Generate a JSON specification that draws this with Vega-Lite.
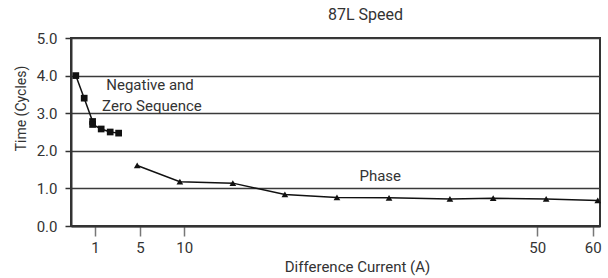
{
  "$schema": "https://vega.github.io/schema/vega-lite/v6.json",
  "width": 529,
  "height": 188,
  "autosize": {"type": "none"},
  "padding": {"left": 71, "top": 38, "right": 8, "bottom": 52},
  "background": "white",
  "title": {"text": "87L Speed", "anchor": "middle", "frame": "group", "dx": 30, "offset": 8, "fontSize": 16, "font": "Roboto", "fontWeight": "normal", "color": "#333"},
  "config": {"view": {"stroke": "#333", "strokeWidth": 2}, "font": "Roboto"},
  "datasets": {
    "points": [
      {"series": "Negative and Zero Sequence", "current": 0.2, "time": 4.0},
      {"series": "Negative and Zero Sequence", "current": 0.55, "time": 3.4},
      {"series": "Negative and Zero Sequence", "current": 0.9, "time": 2.78},
      {"series": "Negative and Zero Sequence", "current": 0.9, "time": 2.7},
      {"series": "Negative and Zero Sequence", "current": 1.55, "time": 2.58},
      {"series": "Negative and Zero Sequence", "current": 2.35, "time": 2.5},
      {"series": "Negative and Zero Sequence", "current": 3.1, "time": 2.47},
      {"series": "Phase", "current": 4.75, "time": 1.61},
      {"series": "Phase", "current": 9.5, "time": 1.18},
      {"series": "Phase", "current": 15.5, "time": 1.14},
      {"series": "Phase", "current": 21.4, "time": 0.84},
      {"series": "Phase", "current": 27.3, "time": 0.76},
      {"series": "Phase", "current": 33.2, "time": 0.75},
      {"series": "Phase", "current": 40.1, "time": 0.72},
      {"series": "Phase", "current": 45.0, "time": 0.74},
      {"series": "Phase", "current": 51.6, "time": 0.72},
      {"series": "Phase", "current": 60.9, "time": 0.68}
    ],
    "labels": [
      {"label": "Negative and", "current": 6.13, "time": 3.63},
      {"label": "Zero Sequence", "current": 6.35, "time": 3.05},
      {"label": "Phase", "current": 32.2, "time": 1.19}
    ]
  },
  "layer": [
    {
      "data": {"name": "points"},
      "mark": {"type": "line", "color": "#111", "strokeWidth": 1.5},
      "encoding": {
        "x": {
          "field": "current", "type": "quantitative",
          "scale": {"type": "linear", "domain": [0, 1, 5, 10, 50, 60, 61.3], "range": [0, 24, 69, 113.3, 466.3, 521.7, 529], "nice": false, "zero": false},
          "axis": {
            "values": [1, 5, 10, 50, 60], "tickCount": 20, "format": "d", "grid": false, "labelOverlap": false,
            "tickSize": 10, "tickColor": "#777", "tickWidth": 1.5,
            "domainColor": "#333", "domainWidth": 2,
            "labelFontSize": 15, "labelColor": "#333", "labelPadding": 4, "labelFont": "Roboto",
            "title": "Difference Current (A)", "titleFontSize": 15, "titleFontWeight": "normal", "titleColor": "#333", "titleFont": "Roboto",
            "titleX": 286, "titlePadding": 4
          }
        },
        "y": {
          "field": "time", "type": "quantitative",
          "scale": {"domain": [0, 5], "nice": false},
          "axis": {
            "values": [0, 1, 2, 3, 4, 5], "tickCount": 20, "format": ".1f", "grid": true, "labelOverlap": false, "labelBound": false,
            "gridColor": "#3a3a3a", "gridWidth": 1.6,
            "tickSize": 6, "tickColor": "#333", "tickWidth": 1.5,
            "domainColor": "#333", "domainWidth": 2,
            "labelFontSize": 15, "labelColor": "#333", "labelPadding": 8, "labelFont": "Roboto",
            "title": "Time (Cycles)", "titleFontSize": 14, "titleFontWeight": "normal", "titleColor": "#333", "titleFont": "Roboto",
            "titleY": 70, "titlePadding": 8
          }
        },
        "detail": {"field": "series"}
      }
    },
    {
      "data": {"name": "points"},
      "mark": {"type": "point", "filled": true, "opacity": 1, "color": "#111", "size": 45},
      "encoding": {
        "x": {"field": "current", "type": "quantitative"},
        "y": {"field": "time", "type": "quantitative"},
        "shape": {"field": "series", "type": "nominal", "scale": {"domain": ["Negative and Zero Sequence", "Phase"], "range": ["square", "triangle-up"]}, "legend": null}
      }
    },
    {
      "data": {"name": "labels"},
      "mark": {"type": "text", "fontSize": 15, "color": "#333", "align": "center", "baseline": "alphabetic", "font": "Roboto"},
      "encoding": {
        "x": {"field": "current", "type": "quantitative"},
        "y": {"field": "time", "type": "quantitative"},
        "text": {"field": "label"}
      }
    }
  ]
}
